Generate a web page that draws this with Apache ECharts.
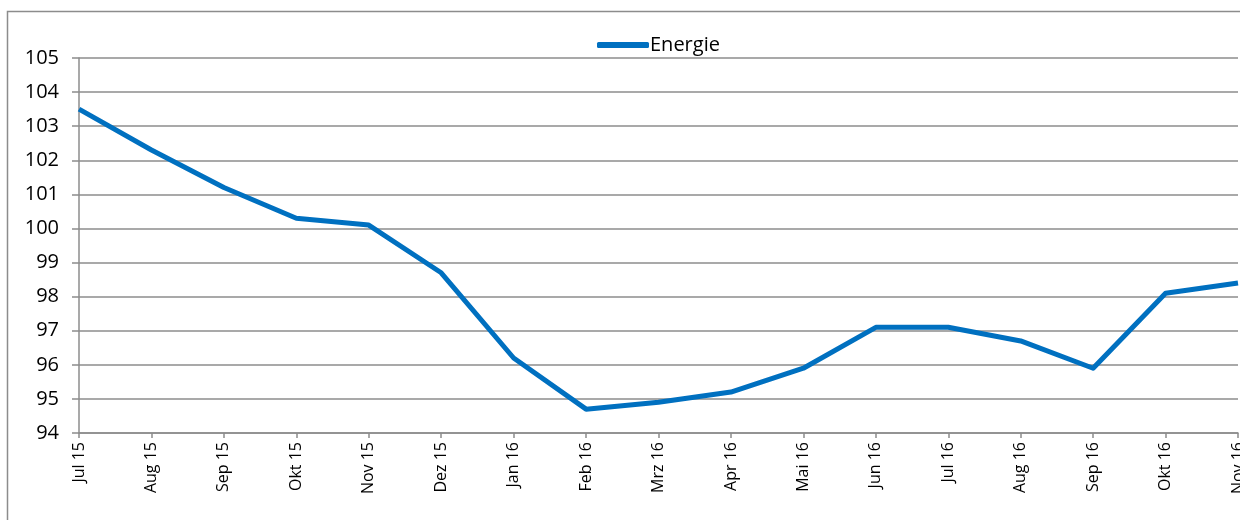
<!DOCTYPE html>
<html><head><meta charset="utf-8">
<script src="https://cdn.jsdelivr.net/npm/echarts@6/dist/echarts.min.js"></script>
<style>html,body{margin:0;padding:0;background:#fff;overflow:hidden}#c{width:1240px;height:520px}</style>
</head><body><div id="c"></div>
<script>
const categories = ["Jul 15","Aug 15","Sep 15","Okt 15","Nov 15","Dez 15","Jan 16","Feb 16","Mrz 16","Apr 16","Mai 16","Jun 16","Jul 16","Aug 16","Sep 16","Okt 16","Nov 16"];
const energie = [103.5,102.3,101.2,100.3,100.1,98.7,96.2,94.7,94.9,95.2,95.9,97.1,97.1,96.7,95.9,98.1,98.4];
const seriesName = "Energie";

const chart = echarts.init(document.getElementById('c'), null, {renderer:'canvas'});
const font = "'Open Sans', 'Noto Sans', sans-serif";
chart.setOption({
  backgroundColor:'#fff',
  animation:false,
  graphic:[{type:'rect', shape:{x:7.5,y:11.5,width:1260,height:540}, style:{fill:'none', stroke:'#8c8c8c', lineWidth:1.5}, z:-1}],
  legend:{top:30,left:592,itemWidth:52,itemHeight:6,itemGap:4,icon:'roundRect',
    textStyle:{fontFamily:font,fontSize:20,color:'#000',padding:[0,0,0,-4]},data:[seriesName]},
  grid:{left:79,top:58,right:2,bottom:87,containLabel:false,outerBoundsMode:'none'},
  xAxis:{type:'category',data:categories,boundaryGap:false,
    axisLine:{lineStyle:{color:'#8c8c8c',width:1.5}},
    axisTick:{show:true,length:5,alignWithLabel:true,lineStyle:{color:'#8c8c8c',width:1.5}},
    axisLabel:{rotate:90,interval:0,fontFamily:font,fontSize:16,color:'#000',margin:9},
    splitLine:{show:false}},
  yAxis:{type:'value',min:94,max:105,interval:1,
    axisLine:{show:true,lineStyle:{color:'#8c8c8c',width:1.5}},
    axisTick:{show:true,length:7,lineStyle:{color:'#8c8c8c',width:1.5}},
    axisLabel:{fontFamily:font,fontSize:20,color:'#000',margin:20},
    splitLine:{lineStyle:{color:'#8c8c8c',width:1.5}}},
  series:[{name:seriesName,type:'line',data:energie,symbol:'none',
    lineStyle:{color:'#0070c0',width:5,join:'round'},itemStyle:{color:'#0070c0'}}]
});
</script></body></html>
